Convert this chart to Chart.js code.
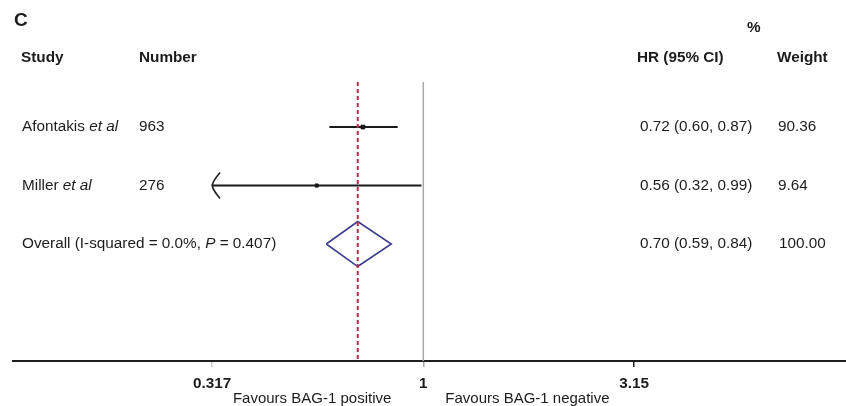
<!DOCTYPE html>
<html>
<head>
<meta charset="utf-8">
<script src="https://cdn.jsdelivr.net/npm/chart.js@4"></script>
<style>
    body { margin: 0; background: #fff; }
    canvas { display: block; }
</style>
</head>
<body>
<canvas id="forest" width="846" height="406"></canvas>
<script>
// study rows
const studyNames = ['Afontakis', 'Miller'];
const studyNumbers = ['963', '276'];
const studyHR = [0.72, 0.56];
const studyLow = [0.60, 0.32];
const studyHigh = [0.87, 0.99];
const studyWeights = ['90.36', '9.64'];
const arrowLeft = [false, true];

// pooled estimate
const overallHR = 0.70;
const overallLow = 0.59;
const overallHigh = 0.84;
const overallWeight = '100.00';
const overallLabel = ['Overall (I-squared = 0.0%, ', 'P', ' = 0.407)'];

// axis
const xTicks = [0.317, 1, 3.15];
const xMin = 0.1073;
const xMax = 9.97;

const FONT = '"Liberation Sans", Arial, sans-serif';
const SIZE = 15.3;
const yTop = 0.23, yBottom = 5;
const diamondHalf = 0.385;

function fmt(v) {
    return v.toFixed(2);
}

let datasets = [];

// dashed line at the overall estimate
datasets.push({
    data: [{ x: overallHR, y: yTop }, { x: overallHR, y: yBottom }],
    showLine: true,
    borderColor: '#b3304a',
    borderWidth: 2,
    borderDash: [4, 3],
    pointRadius: 0
});

// CI lines
for (let i = 0; i < studyHR.length; i++) {
    let lo = arrowLeft[i] ? Math.min(studyLow[i], xTicks[0]) : studyLow[i];
    datasets.push({
        data: [{ x: lo, y: i + 1 }, { x: studyHigh[i], y: i + 1 }],
        showLine: true,
        borderColor: '#1a1a1a',
        borderWidth: 2,
        pointRadius: 0
    });
}

// point estimates
datasets.push({
    data: studyHR.map((v, i) => ({ x: v, y: i + 1 })),
    showLine: false,
    pointStyle: 'rect',
    pointRadius: [2.6, 2.2],
    backgroundColor: '#111',
    borderColor: '#111',
    borderWidth: 1
});

// diamond for the overall
let rowO = studyHR.length + 1;
datasets.push({
    data: [
        { x: overallLow, y: rowO },
        { x: overallHR, y: rowO - diamondHalf },
        { x: overallHigh, y: rowO },
        { x: overallHR, y: rowO + diamondHalf },
        { x: overallLow, y: rowO }
    ],
    showLine: true,
    borderColor: '#3d3d8f',
    borderWidth: 1.6,
    pointRadius: 0,
    fill: false
});

// line of no effect
datasets.push({
    data: [{ x: 1, y: yTop }, { x: 1, y: yBottom }],
    showLine: true,
    borderColor: '#a8a8a8',
    borderWidth: 1.5,
    pointRadius: 0
});

function drawRich(ctx, parts, x, y, size) {
    // parts: [text, italic]
    for (let p of parts) {
        ctx.font = (p[1] ? 'italic ' : '') + size + 'px ' + FONT;
        ctx.fillText(p[0], x, y);
        x += ctx.measureText(p[0]).width;
    }
}

const textPlugin = {
    id: 'forestText',
    afterDraw(chart) {
        const ctx = chart.ctx;
        const xs = chart.scales.x;
        const ys = chart.scales.y;
        ctx.save();
        ctx.fillStyle = '#1c1c1c';
        ctx.textBaseline = 'middle';
        ctx.textAlign = 'left';

        ctx.font = 'bold 19px ' + FONT;
        ctx.fillText('C', 14, 21);

        ctx.font = 'bold ' + SIZE + 'px ' + FONT;
        ctx.fillText('Study', 21, 58);
        ctx.fillText('Number', 139, 58);
        ctx.fillText('HR (95% CI)', 637, 58);
        ctx.fillText('Weight', 777, 58);
        ctx.fillText('%', 747, 28);

        // study rows
        for (let i = 0; i < studyNames.length; i++) {
            let y = ys.getPixelForValue(i + 1);
            drawRich(ctx, [[studyNames[i] + ' ', false], ['et al', true]], 22, y, SIZE);
            ctx.font = SIZE + 'px ' + FONT;
            ctx.fillText(studyNumbers[i], 139, y);
            ctx.fillText(fmt(studyHR[i]) + ' (' + fmt(studyLow[i]) + ', ' + fmt(studyHigh[i]) + ')', 640, y);
            ctx.fillText(studyWeights[i], 778, y);
        }

        let yO = ys.getPixelForValue(rowO);
        drawRich(ctx, [[overallLabel[0], false], [overallLabel[1], true], [overallLabel[2], false]], 22, yO, SIZE);
        ctx.font = SIZE + 'px ' + FONT;
        ctx.fillText(fmt(overallHR) + ' (' + fmt(overallLow) + ', ' + fmt(overallHigh) + ')', 640, yO);
        ctx.fillText(overallWeight, 779, yO);

        // favours labels
        let one = xs.getPixelForValue(1);
        ctx.font = '15px ' + FONT;
        ctx.textAlign = 'right';
        ctx.fillText('Favours BAG-1 positive', one - 32, 399);
        ctx.textAlign = 'left';
        ctx.fillText('Favours BAG-1 negative', one + 22, 399);

        // arrow heads for clipped CIs
        ctx.strokeStyle = '#222';
        ctx.lineWidth = 1.6;
        for (let i = 0; i < studyHR.length; i++) {
            if (!arrowLeft[i]) continue;
            let tip = xs.getPixelForValue(Math.min(studyLow[i], xTicks[0]));
            let y = ys.getPixelForValue(i + 1);
            ctx.beginPath();
            ctx.moveTo(tip + 8, y - 13);
            ctx.quadraticCurveTo(tip + 1, y - 5, tip, y);
            ctx.quadraticCurveTo(tip + 1, y + 5, tip + 8, y + 13);
            ctx.stroke();
        }
        ctx.restore();
    }
};

new Chart(document.getElementById('forest'), {
    type: 'scatter',
    data: { datasets: datasets },
    options: {
        responsive: false,
        animation: false,
        layout: { autoPadding: false, padding: { left: 13, top: 82, right: 0, bottom: 0 } },
        plugins: {
            legend: { display: false },
            tooltip: { enabled: false }
        },
        scales: {
            x: {
                type: 'logarithmic',
                min: xMin,
                max: xMax,
                afterBuildTicks: (scale) => {
                    scale.ticks = xTicks.map(v => ({ value: v }));
                },
                afterFit: (scale) => {
                    scale.height = 45;
                },
                border: { display: true, color: '#1e1e1e', width: 2 },
                grid: {
                    drawOnChartArea: false,
                    drawTicks: true,
                    tickLength: 6,
                    lineWidth: 1.5,
                    color: (ctx) => ['#c8c8c8', '#a8a8a8', '#1e1e1e'][ctx.index]
                },
                ticks: {
                    autoSkip: false,
                    maxRotation: 0,
                    padding: 8,
                    color: '#1c1c1c',
                    font: { family: FONT, size: SIZE, weight: 'bold' },
                    callback: (v) => String(v)
                }
            },
            y: {
                display: false,
                reverse: true,
                min: yTop,
                max: yBottom
            }
        }
    },
    plugins: [textPlugin]
});
</script>
</body>
</html>
